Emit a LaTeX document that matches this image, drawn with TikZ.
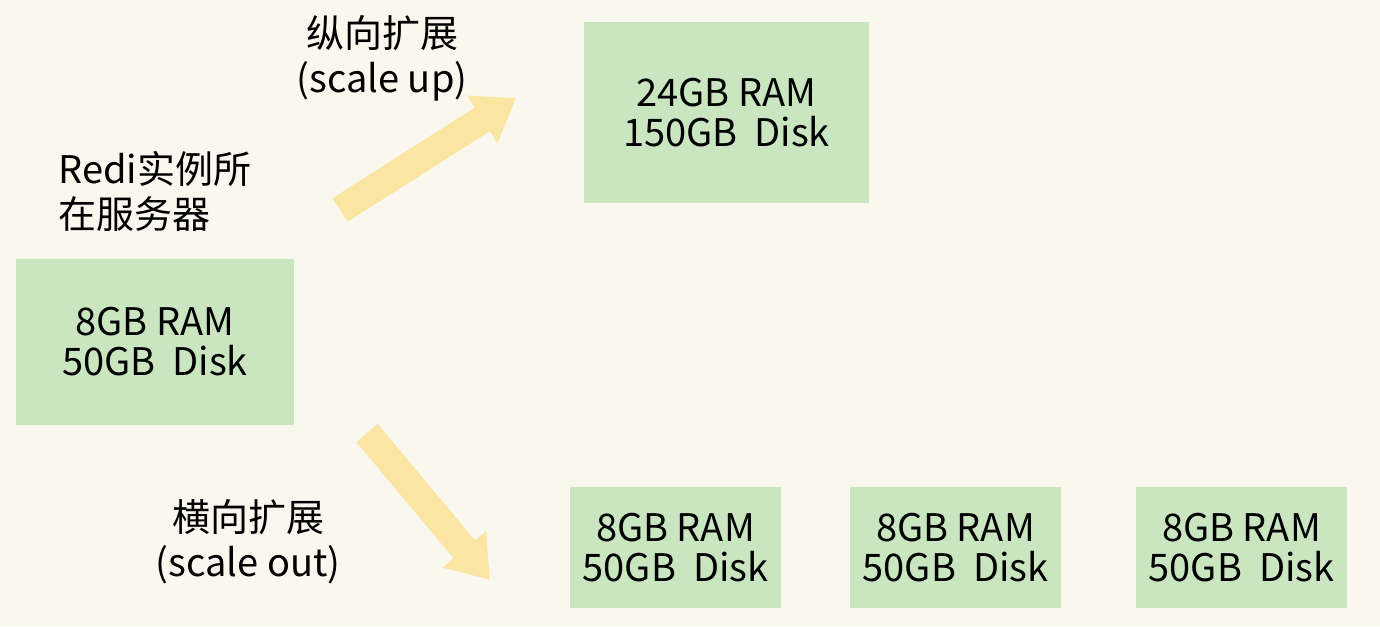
\documentclass[tikz,border=0pt]{standalone}
\usepackage{fontspec}
\setmainfont{Noto Sans CJK SC}
\usetikzlibrary{arrows.meta}
\definecolor{bgpaper}{HTML}{FAF8EE}
\definecolor{boxgreen}{HTML}{C9E6C1}
\definecolor{arrowyellow}{HTML}{FBE5A3}
\tikzset{
  server/.style={fill=boxgreen,draw=none,align=center,inner sep=0pt,
    font=\fontsize{19}{20}\selectfont},
  caption/.style={align=center,inner sep=0pt,font=\fontsize{19}{22.5}\selectfont},
  bigarrow/.style={draw=arrowyellow,line width=14pt,
    -{Triangle[length=20pt,width=27pt]}}
}
\begin{document}
\begin{tikzpicture}[x=0.5pt,y=-0.5pt]
\fill[bgpaper] (0,0) rectangle (1380,626);
\useasboundingbox (0,0) rectangle (1380,626);
\node[server,minimum width=139pt,minimum height=83pt] (base) at (155,342) {8GB RAM\\50GB\ \ Disk};
\node[server,minimum width=142.5pt,minimum height=90.5pt] (up) at (726.5,112.5) {24GB RAM\\150GB\ \ Disk};
\node[server,minimum width=105.5pt,minimum height=60.5pt] (outa) at (675.5,547.5) {8GB RAM\\50GB\ \ Disk};
\node[server,minimum width=105.5pt,minimum height=60.5pt] (outb) at (955.5,547.5) {8GB RAM\\50GB\ \ Disk};
\node[server,minimum width=105.5pt,minimum height=60.5pt] (outc) at (1241.5,547.5) {8GB RAM\\50GB\ \ Disk};
\node[caption,align=left,anchor=west] (host) at (58,191) {Redi实例所\\在服务器};
\node[caption] (uplabel) at (382,58) {纵向扩展\\(scale up)};
\node[caption] (outlabel) at (248,542) {横向扩展\\(scale out)};
\coordinate (uptail) at (340,210);
\coordinate (uptip) at (516,98);
\coordinate (outtail) at (367,433);
\coordinate (outtip) at (490,580);
\draw[bigarrow] (uptail) -- (uptip);
\draw[bigarrow] (outtail) -- (outtip);
\end{tikzpicture}
\end{document}
